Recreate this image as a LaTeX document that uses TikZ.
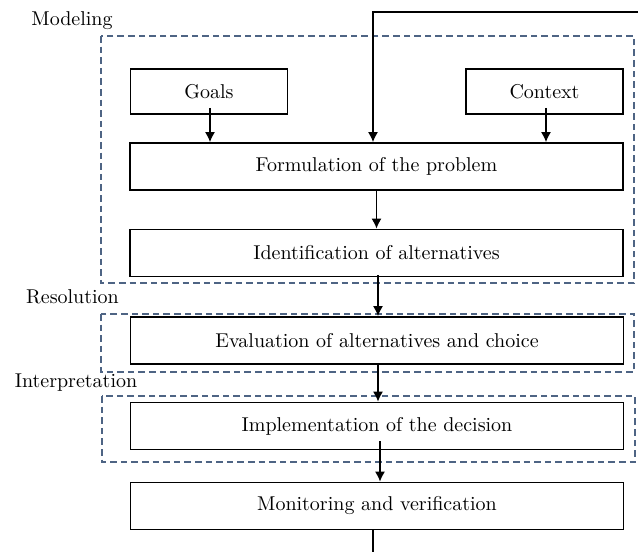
\documentclass[tikz,border=0pt]{standalone}
\usetikzlibrary{arrows.meta,calc}
\definecolor{phaseblue}{RGB}{78,100,132}
\begin{document}
\begin{tikzpicture}[x=0.5pt,y=-0.5pt,
  stepbox/.style={draw, line width=0.9pt, minimum width=246.5pt, minimum height=23.5pt, inner sep=0pt},
  smallbox/.style={draw, line width=0.9pt, minimum width=78.5pt, minimum height=22.5pt, inner sep=0pt},
  phase/.style={draw=phaseblue, line width=0.7pt, dash pattern=on 3.3pt off 2pt},
  link/.style={line width=0.65pt},
  flow/.style={link, -{Latex[length=5pt,width=5pt]}}]
\useasboundingbox (0,0) rectangle (638,552);

% phase frames
\draw[phase] (101,36) rectangle (634,283);
\draw[phase] (101,314) rectangle (634,372);
\draw[phase] (102,396) rectangle (635,462);

% phase labels
\node (lmodel) at (72,21) {Modeling};
\node (lres) at (72.5,297) {Resolution};
\node (linterp) at (76,383) {Interpretation};

% steps
\node[smallbox] (goals) at (209,91.5) {Goals};
\node[smallbox] (context) at (544.5,91.5) {Context};
\node[stepbox] (form) at (376.5,166.5) {Formulation of the problem};
\node[stepbox] (ident) at (376.5,253) {Identification of alternatives};
\node[stepbox] (eval) at (377,340.5) {Evaluation of alternatives and choice};
\node[stepbox] (impl) at (377,426) {Implementation of the decision};
\node[stepbox] (mon) at (377,506) {Monitoring and verification};

% flow between steps
\draw[flow] ($(goals.south)+(1,-7)$) -- ($(goals.south |- form.north)+(1,0)$);
\draw[flow] ($(context.south)+(1.5,-7)$) -- ($(context.south |- form.north)+(1.5,0)$);
\draw[flow] (form.south) -- (form.south |- ident.north);
\draw[flow] ($(ident.south)+(1.5,-2)$) -- ($(ident.south |- eval.north)+(1.5,0)$);
\draw[flow] ($(eval.south)+(1,-2)$) -- ($(eval.south |- impl.north)+(1,0)$);
\draw[flow] ($(impl.south)+(3,-9)$) -- ($(impl.south |- mon.north)+(3,0)$);

% feedback loop
\coordinate (fbbot) at (373,552);
\coordinate (fbtop) at (638,12);
\coordinate (fbcorner) at (373,12);
\draw[link] (mon.south -| fbbot) -- (fbbot);
\draw[flow] (fbtop) -- (fbcorner) -- (fbcorner |- form.north);
\end{tikzpicture}
\end{document}
